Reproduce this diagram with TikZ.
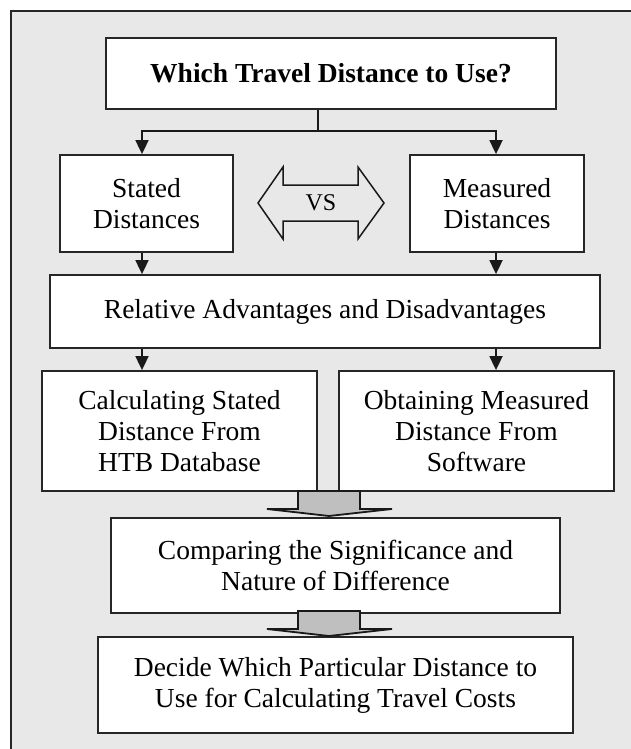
\documentclass[tikz,border=0pt]{standalone}
\usepackage{fontspec}
\setmainfont{Liberation Serif}
\usetikzlibrary{arrows.meta}
\begin{document}
\begin{tikzpicture}[x=1pt,y=-1pt,
  box/.style={draw=black!85, line width=1.8pt, fill=white, align=center,
    inner sep=0pt, font=\fontsize{27.5}{31}\selectfont},
  link/.style={line width=1.8pt, draw=black!90},
  arr/.style={link, -{Triangle[width=13pt,length=14pt]}},
  grayarrow/.pic={
    \draw[fill=black!25, draw=black!90, line width=1.8pt, line join=miter]
      (-31,0) -- (31,0) -- (31,18) -- (63,18) -- (0,25) -- (-62,18) -- (-31,18) -- cycle;
  }]
% page and framed panel
\path[use as bounding box] (0,0) rectangle (631,749);
\fill[white] (0,0) rectangle (631,749);
\fill[black!9] (11,11) rectangle (631,749);
\draw[line width=2.2pt, black!85] (11,749) -- (11,11) -- (631,11);

% boxes
\node[box, font=\fontsize{27.5}{31}\selectfont\bfseries,
      minimum width=450pt, minimum height=71pt] (top) at (331,73.5)
  {Which Travel Distance to Use?};
\node[box, minimum width=173pt, minimum height=97pt] (stated) at (146.5,203.5)
  {Stated\\Distances};
\node[box, minimum width=174pt, minimum height=97pt] (measured) at (497,203.5)
  {Measured\\Distances};
\node[box, minimum width=550pt, minimum height=73pt] (rel) at (325,311.5)
  {Relative Advantages and Disadvantages};
\node[box, minimum width=275pt, minimum height=120pt] (calc) at (179.5,431)
  {Calculating Stated\\Distance From\\HTB Database};
\node[box, minimum width=275pt, minimum height=120pt] (obt) at (476.5,431)
  {Obtaining Measured\\Distance From\\Software};
\node[box, minimum width=449pt, minimum height=95pt] (comp) at (335.5,565.5)
  {Comparing the Significance and\\Nature of Difference};
\node[box, minimum width=475pt, minimum height=96pt] (decide) at (335.5,685)
  {Decide Which Particular Distance to\\Use for Calculating Travel Costs};

% versus double arrow
\draw[line width=1.5pt, black!90, line join=miter]
  (258,203) -- (283,167) -- (283,185) -- (358,185) -- (358,167) -- (384,203)
  -- (358,239) -- (358,221) -- (283,221) -- (283,239) -- cycle;
\node[font=\fontsize{24}{28}\selectfont] (vs) at (321,203) {VS};

% connector columns
\coordinate (split) at (318,131);
\coordinate (colL) at (142,0);
\coordinate (colR) at (496,0);

\draw[link] (split |- top.south) -- (split);
\draw[arr] (split) -| (colL |- stated.north);
\draw[arr] (split) -| (colR |- measured.north);
\draw[arr] (colL |- stated.south) -- (colL |- rel.north);
\draw[arr] (colR |- measured.south) -- (colR |- rel.north);
\draw[arr] (colL |- rel.south) -- (colL |- calc.north);
\draw[arr] (colR |- rel.south) -- (colR |- obt.north);

% wide gray arrows between stages
\pic at (329,491) {grayarrow};
\pic at (329,611) {grayarrow};
\end{tikzpicture}
\end{document}
